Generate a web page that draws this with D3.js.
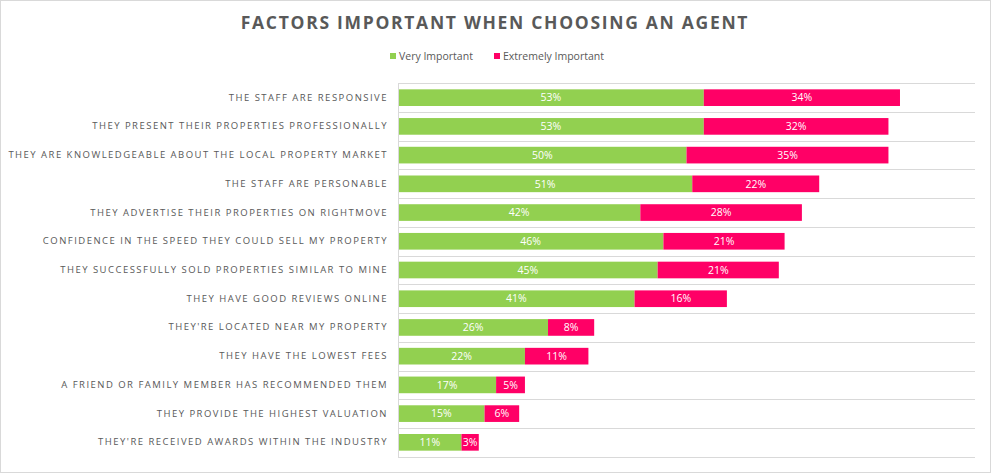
<!DOCTYPE html>
<html>
<head>
<meta charset="utf-8">
<script src="https://cdn.jsdelivr.net/npm/d3@7"></script>
<style>
  body { margin: 0; background: #fff; }
  svg { display: block; font-family: "Open Sans", sans-serif; }
</style>
</head>
<body>
<div id="chart"></div>
<script>
/* data */
const categories = [
    "THE STAFF ARE RESPONSIVE",
    "THEY PRESENT THEIR PROPERTIES PROFESSIONALLY",
    "THEY ARE KNOWLEDGEABLE ABOUT THE LOCAL PROPERTY MARKET",
    "THE STAFF ARE PERSONABLE",
    "THEY ADVERTISE THEIR PROPERTIES ON RIGHTMOVE",
    "CONFIDENCE IN THE SPEED THEY COULD SELL MY PROPERTY",
    "THEY SUCCESSFULLY SOLD PROPERTIES SIMILAR TO MINE",
    "THEY HAVE GOOD REVIEWS ONLINE",
    "THEY'RE LOCATED NEAR MY PROPERTY",
    "THEY HAVE THE LOWEST FEES",
    "A FRIEND OR FAMILY MEMBER HAS RECOMMENDED THEM",
    "THEY PROVIDE THE HIGHEST VALUATION",
    "THEY'RE RECEIVED AWARDS WITHIN THE INDUSTRY"
];
const veryImportant = [53, 53, 50, 51, 42, 46, 45, 41, 26, 22, 17, 15, 11];
const extremelyImportant = [34, 32, 35, 22, 28, 21, 21, 16, 8, 11, 5, 6, 3];
const seriesNames = ["Very Important", "Extremely Important"];
const colors = ["#92d050", "#ff0066"];

/* svg size */
const width = 991;
const height = 473;

const svg = d3.select("#chart").append("svg")
    .attr("width", width)
    .attr("height", height);

/* outer border */
svg.append("rect")
    .attr("x", 0.5).attr("y", 0.5)
    .attr("width", width - 1).attr("height", height - 1)
    .attr("fill", "#fff")
    .attr("stroke", "#d9d9d9");

/* title */
svg.append("text")
    .attr("x", 495)
    .attr("y", 29)
    .attr("text-anchor", "middle")
    .style("font-size", "17.5px")
    .style("font-weight", "bold")
    .style("letter-spacing", "1.7px")
    .attr("fill", "#595959")
    .text("FACTORS IMPORTANT WHEN CHOOSING AN AGENT");

/* scales */
const x = d3.scaleLinear().domain([0, 100]).range([398, 975]);
const y = d3.scaleBand().domain(categories).range([83.3, 456.7]).paddingInner(0.42).paddingOuter(0.21);

/* gridlines between categories */
const step = y.step();
const gridYs = d3.range(categories.length + 1).map(i => 83.3 + i * step);
svg.selectAll(".grid")
    .data(gridYs)
    .enter().append("line")
    .attr("class", "grid")
    .attr("x1", x(0)).attr("x2", x(100))
    .attr("y1", d => Math.round(d) + 0.5).attr("y2", d => Math.round(d) + 0.5)
    .attr("stroke", "#d9d9d9");

/* stacked data */
const rows = categories.map((c, i) => ({ cat: c, v: veryImportant[i], e: extremelyImportant[i] }));
const stack = d3.stack().keys(["v", "e"]);
const stacked = stack(rows);

const layers = svg.selectAll(".layer")
    .data(stacked)
    .enter().append("g")
    .attr("class", "layer")
    .attr("fill", (d, i) => colors[i]);

layers.selectAll("rect")
    .data(d => d)
    .enter().append("rect")
    .attr("x", d => x(d[0]))
    .attr("y", d => y(d.data.cat))
    .attr("width", d => x(d[1]) - x(d[0]))
    .attr("height", y.bandwidth());

layers.selectAll(".val")
    .data(d => d)
    .enter().append("text")
    .attr("class", "val")
    .attr("x", d => (x(d[0]) + x(d[1])) / 2)
    .attr("y", d => y(d.data.cat) + y.bandwidth() / 2)
    .attr("dy", "0.35em")
    .attr("text-anchor", "middle")
    .attr("fill", "#fff")
    .style("font-size", "10.5px")
    .text(d => (d[1] - d[0]) + "%");

/* axis line */
svg.append("line")
    .attr("x1", 398.5).attr("x2", 398.5)
    .attr("y1", 83).attr("y2", 457)
    .attr("stroke", "#d9d9d9");

/* category labels */
const yAxis = d3.axisLeft(y).tickSize(0).tickPadding(10);
const yG = svg.append("g")
    .attr("transform", "translate(" + x(0) + ",0)")
    .call(yAxis);
yG.select(".domain").remove();
yG.selectAll("text")
    .attr("fill", "#595959")
    .style("font-size", "9.5px")
    .style("letter-spacing", "1.48px")
    .style("font-family", "'Open Sans', sans-serif");

/* legend */
const legendX = [390, 494];
const legend = svg.selectAll(".legend")
    .data(seriesNames)
    .enter().append("g")
    .attr("class", "legend")
    .attr("transform", (d, i) => "translate(" + legendX[i] + ",56)");
legend.append("rect")
    .attr("x", 0).attr("y", -3)
    .attr("width", 6).attr("height", 6)
    .attr("fill", (d, i) => colors[i]);
legend.append("text")
    .attr("x", 9)
    .attr("dy", "0.35em")
    .attr("fill", "#595959")
    .style("font-size", "10.5px")
    .text(d => d);
</script>
</body>
</html>
